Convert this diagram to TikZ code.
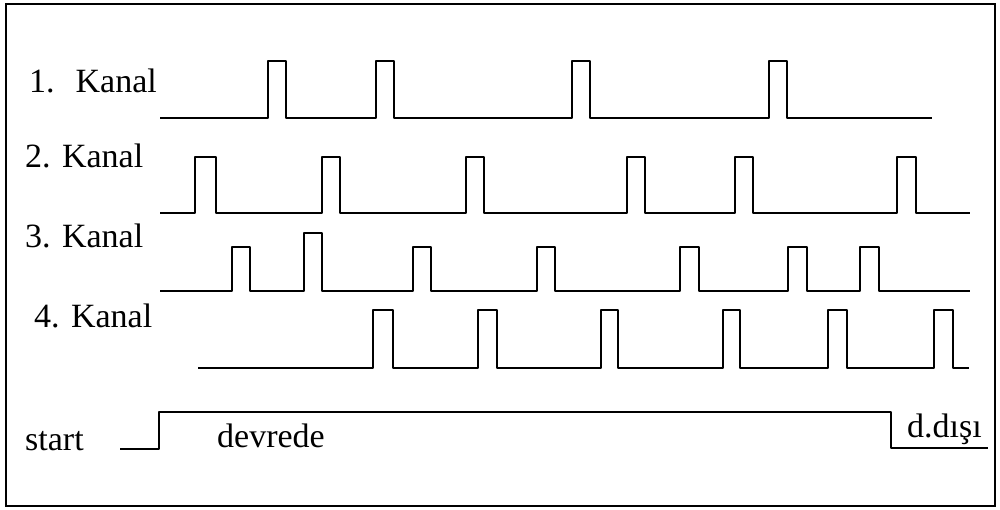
\documentclass[tikz,border=0pt]{standalone}
\usepackage{fontspec}
\setmainfont{Liberation Serif}
\begin{document}
\begin{tikzpicture}[x=1pt,y=-1pt,
  sig/.style={line width=2.7pt,line join=round},
  frame/.style={line width=2.2pt},
  lbl/.style={anchor=base west,inner sep=0pt,font=\fontsize{34}{40}\selectfont}]
\useasboundingbox (0,0) rectangle (1000,510);
\draw[frame] (6,4) rectangle (995,506);
% labels
\node[lbl] (l1) at (29,93) {1.\hspace{21pt}Kanal};
\node[lbl] (l2) at (25,168) {2. Kanal};
\node[lbl] (l3) at (25,248) {3. Kanal};
\node[lbl] (l4) at (34,327) {4. Kanal};
\node[lbl] (ls) at (25,450) {start};
\node[lbl] (ld) at (217,447) {devrede};
\node[lbl] (lo) at (907,437) {d.dışı};
% channel 1
\draw[sig] (160,118) foreach \a/\b in {268/286,376/394,572/590,769/787}
  { -- (\a,118) -- (\a,61) -- (\b,61) -- (\b,118) } -- (932,118);
% channel 2
\draw[sig] (160,213) foreach \a/\b in {195/216,322/340,466/484,627/645,735/753,897/916}
  { -- (\a,213) -- (\a,157) -- (\b,157) -- (\b,213) } -- (970,213);
% channel 3
\draw[sig] (160,291) foreach \a/\b/\t in {232/250/247,304/322/233,413/431/247,537/555/247,680/699/247,788/807/247,860/879/247}
  { -- (\a,291) -- (\a,\t) -- (\b,\t) -- (\b,291) } -- (970,291);
% channel 4
\draw[sig] (198,368) foreach \a/\b in {373/393,478/497,601/618,723/740,828/847,934/953}
  { -- (\a,368) -- (\a,310) -- (\b,310) -- (\b,368) } -- (969,368);
% start signal
\draw[sig] (120,449) -- (159,449) -- (159,412) -- (891,412) -- (891,448) -- (988,448);
\end{tikzpicture}
\end{document}
